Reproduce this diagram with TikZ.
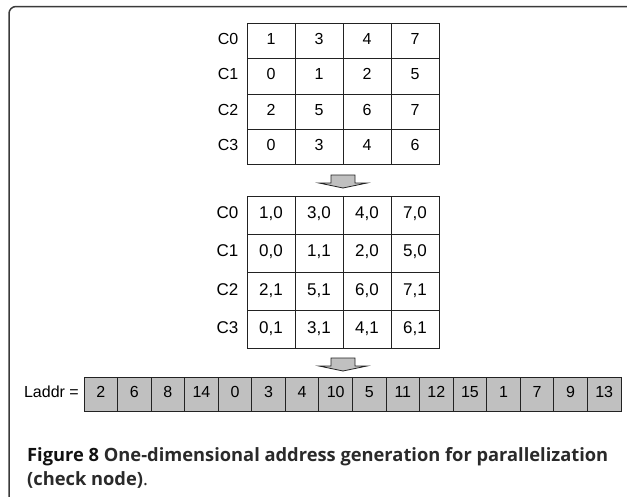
\documentclass[tikz,border=0pt]{standalone}
\usepackage{fontspec}
\setmainfont{Liberation Sans}
\newfontfamily\capfont{Open Sans}
\definecolor{framec}{HTML}{3A3A3A}
\definecolor{linec}{HTML}{222222}
\definecolor{cellgray}{HTML}{C0C0C0}
\definecolor{capdark}{HTML}{111111}
\definecolor{capmid}{HTML}{2A2A2A}
\begin{document}
\begin{tikzpicture}[x=1pt,y=-1pt,
  digits/.style={text height=0.716em, text depth=0pt},
  cellA/.style={draw=linec, line width=0.9pt, minimum width=48pt, minimum height=35.4pt, inner sep=0pt, font=\fontsize{16}{16}\selectfont, digits},
  cellB/.style={draw=linec, line width=0.9pt, minimum width=48pt, minimum height=38.2pt, inner sep=0pt, font=\fontsize{17}{17}\selectfont, digits},
  cellL/.style={draw=linec, fill=cellgray, line width=0.9pt, minimum width=33.56pt, minimum height=34pt, inner sep=0pt, font=\fontsize{16}{16}\selectfont, digits},
  rowlab/.style={anchor=east, inner sep=0pt, digits},
  blockarrow/.pic={\draw[linec, fill=cellgray, line width=0.8pt] (-12,0) -- (12,0) -- (12,8) -- (24,8) -- (0,13) -- (-24,8) -- (-12,8) -- cycle;},
  capt/.style={anchor=base west, inner sep=0pt, font=\capfont\fontsize{18.3}{18.3}\selectfont}
]
\useasboundingbox (0,0) rectangle (627,496);
% frame
\draw[framec, line width=1.5pt, rounded corners=7pt] (9,505) -- (9,6.5) -- (640,6.5);
% table 1
\foreach \i/\r in {0/{1,3,4,7},1/{0,1,2,5},2/{2,5,6,7},3/{0,3,4,6}}{
  \foreach \v [count=\j from 0] in \r {
    \node[cellA] (t1-\i-\j) at ({271+48*\j},{41+35.4*\i}) {\v};
  }
  \node[rowlab, font=\fontsize{16}{16}\selectfont] (l1-\i) at ([xshift=-8pt]t1-\i-0.west) {C\i};
}
% arrow 1
\pic at (343,175) {blockarrow};
% table 2
\foreach \i/\r in {0/{{1,0},{3,0},{4,0},{7,0}},1/{{0,0},{1,1},{2,0},{5,0}},2/{{2,1},{5,1},{6,0},{7,1}},3/{{0,1},{3,1},{4,1},{6,1}}}{
  \foreach \v [count=\j from 0] in \r {
    \node[cellB] (t2-\i-\j) at ({271+48*\j},{215.1+38.2*\i}) {\v};
  }
  \node[rowlab, font=\fontsize{17}{17}\selectfont] (l2-\i) at ([xshift=-8pt]t2-\i-0.west) {C\i};
}
% arrow 2
\pic at (343,358) {blockarrow};
% Laddr
\node[anchor=east, inner sep=0pt, font=\fontsize{16}{16}\selectfont, digits] (laddr) at (79,394) {Laddr =};
\foreach \v [count=\k from 0] in {2,6,8,14,0,3,4,10,5,11,12,15,1,7,9,13}{
  \node[cellL] (L-\k) at ({100.78+33.56*\k},394) {\v};
}
% caption
\node[capt] (cap1) at (27,461) {\textbf{\color{capdark}Figure 8} {\bfseries\color{capmid}One-dimensional address generation for parallelization}};
\node[capt] (cap2) at (27,485) {{\bfseries\color{capmid}(check node)}{\color{capmid}.}};
\end{tikzpicture}
\end{document}
